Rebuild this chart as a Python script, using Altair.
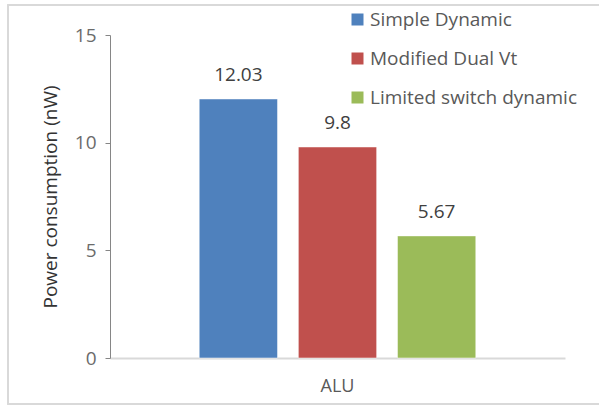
import altair as alt
import pandas as pd

categories = ["ALU", "ALU", "ALU"]
series = ["Simple Dynamic", "Modified Dual Vt", "Limited switch dynamic"]
values = [12.03, 9.8, 5.67]
labels = ["12.03", "9.8", "5.67"]
colors = ["#4F81BD", "#C0504D", "#9BBB59"]

df = pd.DataFrame({"cat": categories, "series": series, "value": values, "label": labels})

FONT = "Open Sans"

xscale = alt.Scale(paddingInner=0, paddingOuter=0)
xenc = alt.X("cat:N", title=None, scale=xscale,
             axis=alt.Axis(labelAngle=0, ticks=False, domainColor="#d9d9d9", domainWidth=2,
                           labelColor="#595959", labelFontSize=18, labelPadding=19, labelFont=FONT))
xoff = alt.XOffset("series:N", sort=series,
                   scale=alt.Scale(paddingInner=0.21, paddingOuter=0.9))

yscale = alt.Scale(domain=[0, 15], nice=False)

bars = alt.Chart(df).mark_bar(stroke="white", strokeOpacity=0.5, strokeWidth=1).encode(
    x=xenc,
    xOffset=xoff,
    y=alt.Y("value:Q", scale=yscale,
            title="Power consumption (nW)",
            axis=alt.Axis(values=[0, 5, 10, 15], grid=False, domainColor="#868686",
                          tickColor="#868686", tickSize=5, labelColor="#6b6b6b",
                          labelFontSize=19, labelPadding=9, labelFont=FONT,
                          titleFont=FONT, titleFontSize=19, titleFontWeight="normal",
                          titleColor="#333333", titlePadding=14)),
    color=alt.Color("series:N", sort=series,
                    scale=alt.Scale(domain=series, range=colors),
                    legend=alt.Legend(title=None, orient="none", legendX=238, legendY=-25,
                                      symbolType="square", symbolSize=144, symbolStrokeWidth=0,
                                      labelFont=FONT, labelFontSize=19, labelColor="#595959",
                                      labelLimit=400, rowPadding=19, symbolOffset=0, labelOffset=3)),
)

text = alt.Chart(df).mark_text(baseline="alphabetic", dy=-18, fontSize=19, color="#404040", font=FONT).encode(
    x=alt.X("cat:N", scale=xscale),
    xOffset=xoff,
    y=alt.Y("value:Q", scale=yscale),
    text="label:N",
)

border = alt.Chart(df).mark_rect(fill=None, stroke="#d9d9d9", strokeWidth=1.5).encode(
    x=alt.value(-102), x2=alt.value(500), y=alt.value(-30), y2=alt.value(369)
)

chart = alt.layer(bars, text, border).properties(
    width=455, height=323,
    autosize=alt.AutoSizeParams(type="none"),
    padding={"left": 110, "top": 35, "right": 34, "bottom": 48},
    background="white",
).configure_view(stroke=None)

chart.save("out.html", embed_options={"renderer": "svg", "actions": False})
